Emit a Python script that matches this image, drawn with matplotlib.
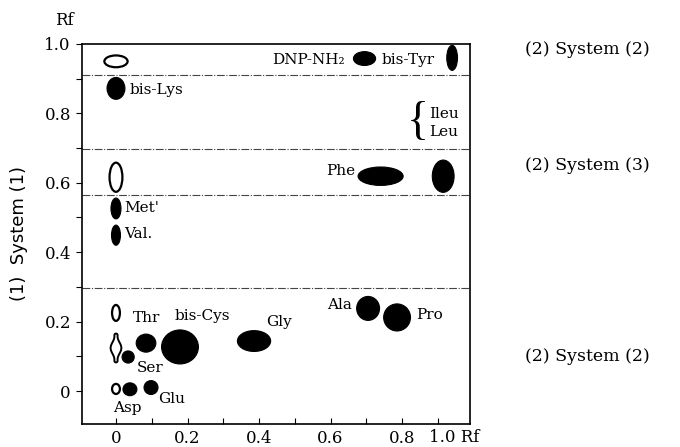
import matplotlib
matplotlib.use("Agg")
import matplotlib.pyplot as plt
from matplotlib.patches import Ellipse, Polygon
import numpy as np

# spots: Rf in system (2) on x, Rf in system (1) on y
spot_x = [0.0, 0.0, 0.0, 0.0, 0.0, 0.0, 0.0, 0.034, 0.084, 0.179, 0.386,
          0.0, 0.039, 0.098, 0.705, 0.786, 0.695, 0.94, 0.74, 0.915]
spot_y = [0.95, 0.872, 0.616, 0.526, 0.449, 0.225, 0.124, 0.098, 0.138, 0.127, 0.144,
          0.006, 0.005, 0.01, 0.238, 0.212, 0.958, 0.96, 0.619, 0.619]
spot_w = [0.065, 0.05, 0.036, 0.028, 0.025, 0.022, 0.03, 0.034, 0.055, 0.103, 0.093,
          0.022, 0.039, 0.039, 0.064, 0.075, 0.062, 0.03, 0.126, 0.061]
spot_h = [0.034, 0.063, 0.084, 0.06, 0.058, 0.046, 0.083, 0.035, 0.052, 0.098, 0.06,
          0.029, 0.037, 0.04, 0.069, 0.078, 0.04, 0.072, 0.053, 0.093]
spot_filled = [False, True, False, True, True, False, False, True, True, True, True,
               False, True, True, True, True, True, True, True, True]
peanut_index = 6

label_text = ["DNP-NH₂", "bis-Tyr", "bis-Lys", "Ileu", "Leu", "Phe", "Met'", "Val.",
              "Thr", "bis-Cys", "Gly", "Ser", "Glu", "Asp", "Ala", "Pro"]
label_x = [0.64, 0.744, 0.039, 0.876, 0.876, 0.668, 0.022, 0.022,
           0.048, 0.165, 0.42, 0.059, 0.117, -0.008, 0.66, 0.839]
label_y = [0.953, 0.953, 0.866, 0.797, 0.745, 0.633, 0.527, 0.452,
           0.21, 0.216, 0.199, 0.066, -0.023, -0.049, 0.247, 0.219]
label_ha = ["right", "left", "left", "left", "left", "right", "left", "left",
            "left", "left", "left", "left", "left", "left", "right", "left"]

band_lines = [0.91, 0.697, 0.566, 0.296]
system_labels = ["(2) System (2)", "(2) System (3)", "(2) System (2)"]
system_y = [0.985, 0.65, 0.1]

fig = plt.figure(figsize=(6.8, 4.47), dpi=100)
ax = fig.add_axes([0.1206, 0.0515, 0.5706, 0.8501])
ax.set_xlim(-0.095, 0.99)
ax.set_ylim(-0.095, 1.0)

for y in band_lines:
    ax.axhline(y, color="#444444", lw=0.8, ls=(0, (7, 1.5, 1, 1.5)))

for i in range(len(spot_x)):
    if i == peanut_index:
        t = np.linspace(0, 2 * np.pi, 200)
        px = spot_x[i] + spot_w[i] / 2 * np.cos(t) * (0.45 + 0.55 * np.sin(2 * t + np.pi / 2) ** 2)
        py = spot_y[i] + spot_h[i] / 2 * np.sin(t)
        ax.add_patch(Polygon(np.column_stack([px, py]), closed=True,
                             facecolor="white", edgecolor="black", lw=1.4))
        continue
    if spot_filled[i]:
        e = Ellipse((spot_x[i], spot_y[i]), spot_w[i], spot_h[i],
                    facecolor="black", edgecolor="black", lw=0.8, zorder=3)
    else:
        e = Ellipse((spot_x[i], spot_y[i]), spot_w[i], spot_h[i],
                    facecolor="white", edgecolor="black", lw=1.6, zorder=3)
    ax.add_patch(e)

for s, x, y, ha in zip(label_text, label_x, label_y, label_ha):
    ax.text(x, y, s, ha=ha, va="center", fontsize=11, family="DejaVu Serif")

# brace for Ileu / Leu
ax.text(0.874, 0.772, "{", ha="right", va="center", fontsize=33,
        family="Liberation Serif", fontweight="light")

ax.set_xticks([0, 0.2, 0.4, 0.6, 0.8])
ax.set_xticklabels(["0", "0.2", "0.4", "0.6", "0.8"])
ax.set_xticks([0.1, 0.3, 0.5, 0.7, 0.9], minor=True)
ax.set_yticks([0, 0.2, 0.4, 0.6, 0.8, 1.0])
ax.set_yticklabels(["0", "0.2", "0.4", "0.6", "0.8", "1.0"])
ax.set_yticks([0.1, 0.3, 0.5, 0.7, 0.9], minor=True)
ax.tick_params(axis="x", which="both", direction="in", length=4, width=0.8)
ax.tick_params(axis="y", which="both", direction="out", length=4, width=0.8)
ax.tick_params(which="major", labelsize=12, pad=4)
for lab in ax.get_xticklabels() + ax.get_yticklabels():
    lab.set_family("DejaVu Serif")
for sp in ax.spines.values():
    sp.set_linewidth(1.2)

ax.text(0.945, -0.135, "1.0 Rf", ha="center", va="center", fontsize=12,
        family="DejaVu Serif", clip_on=False)
ax.text(-0.143, 1.068, "Rf", ha="center", va="center", fontsize=12,
        family="DejaVu Serif", clip_on=False)

ax.set_ylabel("(1)  System (1)", fontsize=13, labelpad=12)

for s, y in zip(system_labels, system_y):
    fig.text(0.772, ax.transData.transform((0, y))[1] / fig.bbox.height, s,
             ha="left", va="center", fontsize=12.5, family="DejaVu Serif")

fig.savefig("out.png", dpi=100)
